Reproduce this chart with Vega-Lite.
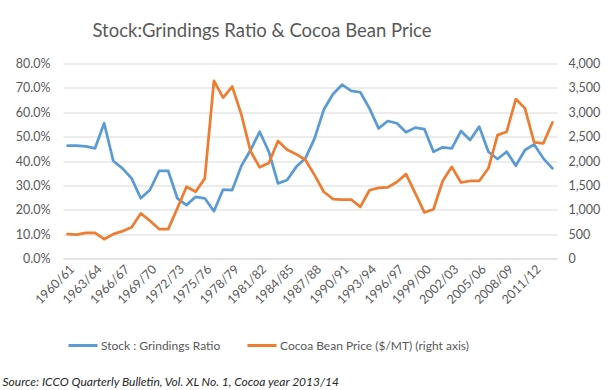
{
  "$schema": "https://vega.github.io/schema/vega-lite/v6.json",
  "width": 494,
  "height": 195,
  "autosize": {"type": "none"},
  "padding": {"left": 63, "top": 63.5, "right": 59, "bottom": 131.5},
  "background": "white",
  "title": {
    "text": "Stock:Grindings Ratio & Cocoa Bean Price",
    "anchor": "middle",
    "frame": "group",
    "dx": -48,
    "offset": 2.5,
    "baseline": "alphabetic",
    "font": "Lato",
    "fontSize": 18.5,
    "fontWeight": "normal",
    "color": "#595959"
  },
  "config": {
    "view": {"stroke": null},
    "font": "Lato",
    "axis": {"labelFont": "Lato", "labelFontSize": 12.5, "labelColor": "#595959", "ticks": false, "domain": false, "gridColor": "#d9d9d9", "gridWidth": 1}
  },
  "data": {
    "values": [
      {"season": "1960/61", "ratio": 0.463, "price": 500},
      {"season": "1961/62", "ratio": 0.463, "price": 490},
      {"season": "1962/63", "ratio": 0.46, "price": 526},
      {"season": "1963/64", "ratio": 0.452, "price": 526},
      {"season": "1964/65", "ratio": 0.555, "price": 396},
      {"season": "1965/66", "ratio": 0.40, "price": 500},
      {"season": "1966/67", "ratio": 0.37, "price": 561},
      {"season": "1967/68", "ratio": 0.329, "price": 643},
      {"season": "1968/69", "ratio": 0.247, "price": 925},
      {"season": "1969/70", "ratio": 0.281, "price": 775},
      {"season": "1970/71", "ratio": 0.359, "price": 605},
      {"season": "1971/72", "ratio": 0.359, "price": 602},
      {"season": "1972/73", "ratio": 0.247, "price": 1030},
      {"season": "1973/74", "ratio": 0.219, "price": 1472},
      {"season": "1974/75", "ratio": 0.253, "price": 1369},
      {"season": "1975/76", "ratio": 0.247, "price": 1644},
      {"season": "1976/77", "ratio": 0.194, "price": 3644},
      {"season": "1977/78", "ratio": 0.283, "price": 3300},
      {"season": "1978/79", "ratio": 0.281, "price": 3527},
      {"season": "1979/80", "ratio": 0.38, "price": 2950},
      {"season": "1980/81", "ratio": 0.445, "price": 2200},
      {"season": "1981/82", "ratio": 0.52, "price": 1870},
      {"season": "1982/83", "ratio": 0.438, "price": 1960},
      {"season": "1983/84", "ratio": 0.308, "price": 2410},
      {"season": "1984/85", "ratio": 0.322, "price": 2230},
      {"season": "1985/86", "ratio": 0.376, "price": 2140},
      {"season": "1986/87", "ratio": 0.411, "price": 2020},
      {"season": "1987/88", "ratio": 0.493, "price": 1710},
      {"season": "1988/89", "ratio": 0.61, "price": 1370},
      {"season": "1989/90", "ratio": 0.674, "price": 1220},
      {"season": "1990/91", "ratio": 0.713, "price": 1210},
      {"season": "1991/92", "ratio": 0.688, "price": 1210},
      {"season": "1992/93", "ratio": 0.682, "price": 1060},
      {"season": "1993/94", "ratio": 0.616, "price": 1400},
      {"season": "1994/95", "ratio": 0.534, "price": 1450},
      {"season": "1995/96", "ratio": 0.564, "price": 1460},
      {"season": "1996/97", "ratio": 0.555, "price": 1570},
      {"season": "1997/98", "ratio": 0.518, "price": 1730},
      {"season": "1998/99", "ratio": 0.537, "price": 1340},
      {"season": "1999/00", "ratio": 0.531, "price": 945},
      {"season": "2000/01", "ratio": 0.438, "price": 1010},
      {"season": "2001/02", "ratio": 0.456, "price": 1590},
      {"season": "2002/03", "ratio": 0.452, "price": 1880},
      {"season": "2003/04", "ratio": 0.523, "price": 1560},
      {"season": "2004/05", "ratio": 0.486, "price": 1590},
      {"season": "2005/06", "ratio": 0.541, "price": 1590},
      {"season": "2006/07", "ratio": 0.438, "price": 1850},
      {"season": "2007/08", "ratio": 0.408, "price": 2530},
      {"season": "2008/09", "ratio": 0.438, "price": 2600},
      {"season": "2009/10", "ratio": 0.381, "price": 3270},
      {"season": "2010/11", "ratio": 0.445, "price": 3080},
      {"season": "2011/12", "ratio": 0.468, "price": 2380},
      {"season": "2012/13", "ratio": 0.411, "price": 2360},
      {"season": "2013/14", "ratio": 0.37, "price": 2790}
    ]
  },
  "encoding": {
    "x": {
      "field": "season",
      "type": "ordinal",
      "sort": null,
      "scale": {"type": "point", "padding": 0.5},
      "axis": {
        "values": ["1960/61","1963/64","1966/67","1969/70","1972/73","1975/76","1978/79","1981/82","1984/85","1987/88","1990/91","1993/94","1996/97","1999/00","2002/03","2005/06","2008/09","2011/12"],
        "labelAngle": -45,
        "labelPadding": 4,
        "grid": false,
        "domain": true,
        "domainColor": "#d9d9d9",
        "title": "Source: ICCO Quarterly Bulletin, Vol. XL No. 1, Cocoa year 2013/14",
        "titleX": -61,
        "titleY": 122.5,
        "titleAlign": "left",
        "titleAnchor": null,
        "titleBaseline": "middle",
        "titleFont": "Lato",
        "titleFontStyle": "italic",
        "titleFontWeight": "normal",
        "titleFontSize": 12,
        "titleColor": "#262626"
      }
    },
    "color": {
      "scale": {
        "domain": ["Stock : Grindings Ratio", "Cocoa Bean Price ($/MT) (right axis)"],
        "range": ["#5B9BD5", "#ED7D31"]
      },
      "legend": {
        "title": null,
        "orient": "none",
        "legendX": 4,
        "legendY": 266,
        "direction": "horizontal",
        "symbolType": "stroke",
        "symbolSize": 841,
        "symbolStrokeWidth": 3,
        "labelFont": "Lato",
        "labelFontSize": 12,
        "labelColor": "#595959",
        "labelOffset": 2,
        "labelLimit": 400,
        "columnPadding": 20,
        "padding": 0
      }
    }
  },
  "layer": [
    {
      "mark": {"type": "line", "strokeWidth": 2.75, "strokeCap": "round", "strokeJoin": "round"},
      "encoding": {
        "y": {
          "field": "ratio",
          "type": "quantitative",
          "scale": {"domain": [0, 0.8], "nice": false},
          "axis": {"values": [0, 0.1, 0.2, 0.3, 0.4, 0.5, 0.6, 0.7, 0.8], "format": ".1%", "title": null, "grid": true, "labelPadding": 13}
        },
        "color": {"datum": "Stock : Grindings Ratio"}
      }
    },
    {
      "mark": {"type": "line", "strokeWidth": 2.75, "strokeCap": "round", "strokeJoin": "round"},
      "encoding": {
        "y": {
          "field": "price",
          "type": "quantitative",
          "scale": {"domain": [0, 4000], "nice": false},
          "axis": {"orient": "right", "values": [0, 500, 1000, 1500, 2000, 2500, 3000, 3500, 4000], "format": ",.0f", "title": null, "grid": false, "labelPadding": 11}
        },
        "color": {"datum": "Cocoa Bean Price ($/MT) (right axis)"}
      }
    }
  ],
  "resolve": {"scale": {"y": "independent"}}
}
